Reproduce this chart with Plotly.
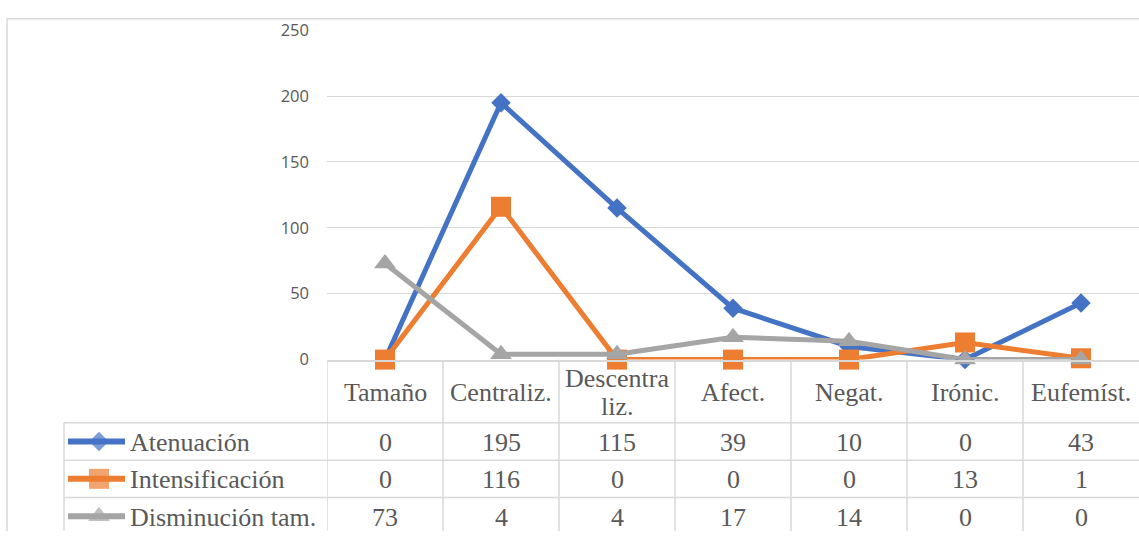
import plotly.graph_objects as go

categories = ["Tamaño", "Centraliz.", "Descentraliz.", "Afect.", "Negat.", "Irónic.", "Eufemíst."]
header_lines = [["Tamaño"], ["Centraliz."], ["Descentra", "liz."], ["Afect."], ["Negat."], ["Irónic."], ["Eufemíst."]]
series_names = ["Atenuación", "Intensificación", "Disminución tam."]
atenuacion = [0, 195, 115, 39, 10, 0, 43]
intensificacion = [0, 116, 0, 0, 0, 13, 1]
disminucion = [73, 4, 4, 17, 14, 0, 0]
y_ticks = [0, 50, 100, 150, 200, 250]

series_values = [atenuacion, intensificacion, disminucion]
colors = ["#4472C4", "#ED7D31", "#A5A5A5"]
symbols = ["diamond", "square", "triangle-up"]
msizes = [15, 20, 19]

W, H = 1139, 542
plot_left, plot_top, plot_bottom = 327, 19, 363
hdr_left = 64
# table geometry (pixels below the axis line)
row_bounds = [0, 66, 105, 144, 183]
grid_col = "#D9D9D9"
txt_col = "#595959"
serif = "Liberation Serif"

fig = go.Figure()

for name, vals, c, sym, ms in zip(series_names, series_values, colors, symbols, msizes):
    fig.add_trace(go.Scatter(
        x=categories, y=vals, name=name, mode="lines+markers",
        line=dict(color=c, width=5),
        marker=dict(symbol=sym, size=ms, color=c, line=dict(width=0)),
        cliponaxis=False, showlegend=False, xaxis="x", yaxis="y"))

# legend keys in the table row headers
for i, (c, sym, ms) in enumerate(zip(colors, symbols, msizes)):
    yc = (row_bounds[i + 1] + row_bounds[i + 2]) / 2
    fig.add_trace(go.Scatter(
        x=[4, 35, 61], y=[yc, yc, yc], mode="lines+markers",
        line=dict(color=c, width=6),
        marker=dict(symbol=sym, size=[0, ms, 0], color=c, line=dict(width=0)),
        cliponaxis=False, showlegend=False, xaxis="x2", yaxis="y2", hoverinfo="skip"))

annotations = []
# header labels
for cat, lines in zip(categories, header_lines):
    if len(lines) == 1:
        annotations.append(dict(x=cat, y=(row_bounds[0] + row_bounds[1]) / 2 + 1, xref="x", yref="y3",
                                text=lines[0], showarrow=False,
                                font=dict(family=serif, size=26, color=txt_col)))
    else:
        for k, ln in enumerate(lines):
            annotations.append(dict(x=cat, y=(row_bounds[0] + row_bounds[1]) / 2 - 14 + 29 * k + 1,
                                    xref="x", yref="y3", text=ln, showarrow=False,
                                    font=dict(family=serif, size=26, color=txt_col)))
# values
for i, vals in enumerate(series_values):
    yc = (row_bounds[i + 1] + row_bounds[i + 2]) / 2
    for cat, v in zip(categories, vals):
        annotations.append(dict(x=cat, y=yc + 1, xref="x", yref="y3", text=str(v), showarrow=False,
                                font=dict(family=serif, size=26, color=txt_col)))
    annotations.append(dict(x=64, y=yc + 1, xref="x2", yref="y2", text=series_names[i], showarrow=False,
                            xanchor="left", font=dict(family=serif, size=26, color=txt_col)))

shapes = []
# outer chart border (partially visible)
shapes.append(dict(type="line", xref="paper", yref="paper", x0=7 / W, x1=1, y0=1 - 7 / H, y1=1 - 7 / H,
                   line=dict(color=grid_col, width=1.5)))
shapes.append(dict(type="line", xref="paper", yref="paper", x0=7 / W, x1=7 / W, y0=0, y1=1 - 7 / H,
                   line=dict(color=grid_col, width=1.5)))
# table horizontal lines
for rb in row_bounds[1:4]:
    shapes.append(dict(type="line", xref="paper", yref="y3", x0=hdr_left / W, x1=1, y0=rb, y1=rb,
                       line=dict(color=grid_col, width=1.5)))
# table vertical lines
shapes.append(dict(type="line", xref="paper", yref="y3", x0=hdr_left / W, x1=hdr_left / W,
                   y0=row_bounds[1], y1=row_bounds[4], line=dict(color=grid_col, width=1.5)))
for k in range(len(categories)):
    shapes.append(dict(type="line", xref="x", yref="y3", x0=k - 0.5, x1=k - 0.5,
                       y0=row_bounds[0], y1=row_bounds[4], line=dict(color=grid_col, width=1.5)))

tbl_domain = [0, 1 - plot_bottom / H]
fig.update_layout(
    width=W, height=H, margin=dict(l=0, r=0, t=0, b=0),
    paper_bgcolor="white", plot_bgcolor="white",
    xaxis=dict(domain=[plot_left / W, 1], range=[-0.5, 6.5], type="category",
               showticklabels=False, showgrid=False, zeroline=False,
               showline=True, linecolor=grid_col, linewidth=1.5, ticks=""),
    yaxis=dict(domain=[1 - plot_bottom / H, 1 - plot_top / H], range=[0, 250],
               tickvals=y_ticks, showgrid=True, gridcolor=grid_col, gridwidth=1.2,
               zeroline=False, showline=False, ticks="", ticklabelstandoff=17,
               tickfont=dict(family="Open Sans", size=16.5, color=txt_col)),
    xaxis2=dict(domain=[hdr_left / W, plot_left / W], range=[0, plot_left - hdr_left],
                visible=False, anchor="y2"),
    yaxis2=dict(domain=tbl_domain, range=[H - plot_bottom, 0], visible=False, anchor="x2"),
    yaxis3=dict(domain=tbl_domain, range=[H - plot_bottom, 0], visible=False, anchor="x"),
    annotations=annotations, shapes=shapes,
)

fig.write_html("out.html")
